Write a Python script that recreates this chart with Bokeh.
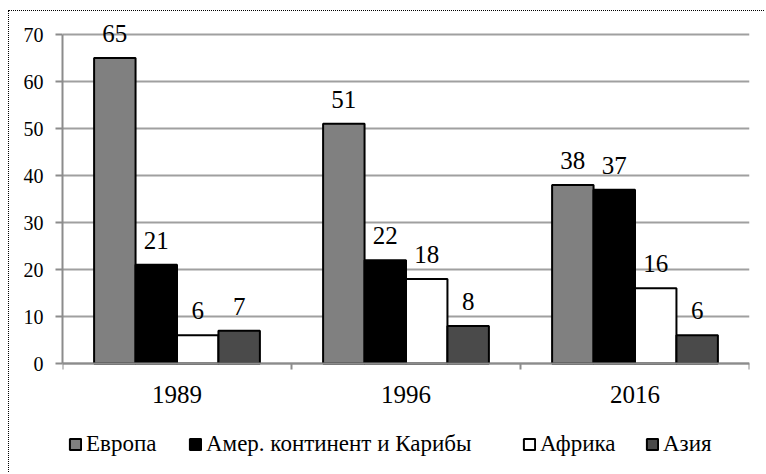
from bokeh.plotting import figure
from bokeh.models import (ColumnDataSource, FixedTicker, Legend, LegendItem,
                          LabelSet, Range1d, Span)
from bokeh.embed import file_html
from bokeh.resources import INLINE

years = ["1989", "1996", "2016"]
regions = ["Европа", "Амер. континент и Карибы", "Африка", "Азия"]
europe = [65, 51, 38]
americas = [21, 22, 37]
africa = [6, 18, 16]
asia = [7, 8, 6]
series = [europe, americas, africa, asia]
y_ticks = list(range(0, 71, 10))

colors = ["#808080", "#000000", "#ffffff", "#4a4a4a"]
offsets = [-0.2715, -0.0905, 0.0905, 0.2715]
bar_width = 0.181
legend_x = [6, 126, 460, 583]   # screen px from frame left
FONT = "Liberation Serif"
AXIS_GREY = "#8c8c8c"

FRAME_H = 461          # px
Y_MIN, Y_MAX = -23.4, 74.69
PX_PER_UNIT = FRAME_H / (Y_MAX - Y_MIN)

p = figure(width=756, height=462, x_range=Range1d(0, 3),
           y_range=Range1d(Y_MIN, Y_MAX),
           output_backend="svg", toolbar_location=None,
           min_border_left=53, min_border_right=16, min_border_top=1,
           min_border_bottom=0,
           styles={"border-left": "1px dotted #000000",
                   "border-top": "1px dotted #000000",
                   "margin-left": "8px", "margin-top": "10px"})
p.outline_line_color = None
p.background_fill_color = "#ffffff"
p.border_fill_color = "#ffffff"

# grid
p.xgrid.grid_line_color = None
p.ygrid.grid_line_color = "#a0a0a0"
p.ygrid.grid_line_width = 2

# x axis drawn at y = 0 inside the frame
p.xaxis.visible = False
p.add_layout(Span(location=0, dimension="width", line_color=AXIS_GREY,
                  line_width=2))
bounds_x = list(range(len(years) + 1))
p.segment(x0=bounds_x, y0=[0] * len(bounds_x), x1=bounds_x,
          y1=[-6 / PX_PER_UNIT] * len(bounds_x),
          line_color=AXIS_GREY, line_width=2)
cat_src = ColumnDataSource(dict(x=[i + 0.5 for i in range(len(years))],
                                y=[0] * len(years), text=years))
p.add_layout(LabelSet(x="x", y="y", text="text", source=cat_src,
                      text_align="center", text_baseline="top", y_offset=-22,
                      text_font=FONT, text_font_size="25px",
                      text_color="#000000"))

for k, vals in enumerate(series):
    xs = [i + 0.5 + offsets[k] for i in range(len(years))]
    src = ColumnDataSource(dict(x=xs, top=vals, label=[str(v) for v in vals]))
    r = p.vbar(x="x", top="top", bottom=0, width=bar_width, source=src,
               fill_color=colors[k], line_color="#000000", line_width=2)
    p.add_layout(LabelSet(x="x", y="top", text="label", source=src,
                          text_align="center", text_baseline="alphabetic",
                          y_offset=16, text_font=FONT, text_font_size="25px",
                          text_color="#000000"))
    leg = Legend(items=[LegendItem(label=regions[k], renderers=[r])],
                 orientation="horizontal", location=(legend_x[k], 16),
                 label_text_font=FONT, label_text_font_size="23px",
                 label_text_color="#000000",
                 glyph_width=14, glyph_height=14, label_standoff=4,
                 border_line_color=None, background_fill_alpha=0,
                 padding=0, margin=0)
    p.add_layout(leg)

# y axis
ya = p.yaxis[0]
ya.bounds = (0, 70)
ya.ticker = FixedTicker(ticks=y_ticks)
ya.minor_tick_line_color = None
ya.major_tick_in = 0
ya.major_tick_out = 7
ya.major_tick_line_color = AXIS_GREY
ya.major_tick_line_width = 2
ya.axis_line_color = AXIS_GREY
ya.axis_line_width = 2
ya.major_label_text_font = FONT
ya.major_label_text_font_size = "20px"
ya.major_label_text_color = "#000000"
ya.major_label_standoff = 12

open("out.html", "w").write(file_html(p, INLINE))
